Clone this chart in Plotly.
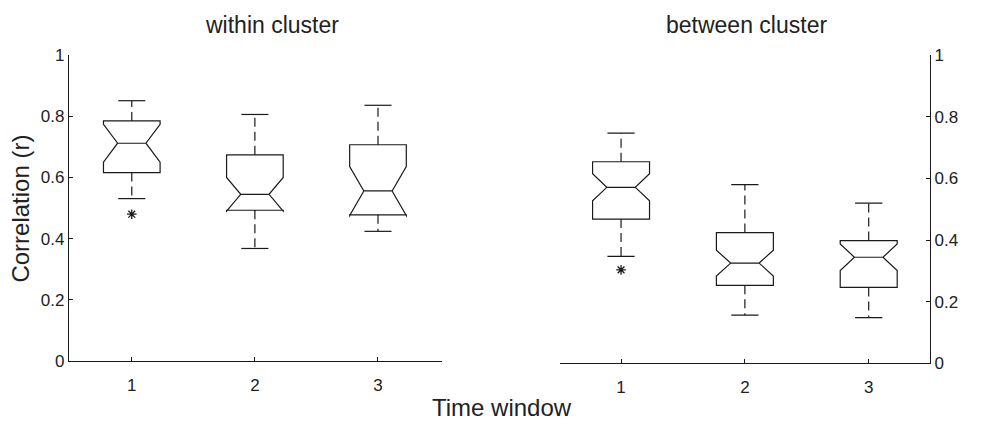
import plotly.graph_objects as go

# ---- data ----
windows = [1, 2, 3]
tick_vals_y = [0, 0.2, 0.4, 0.6, 0.8, 1]
tick_text_y = ["0", "0.2", "0.4", "0.6", "0.8", "1"]

within_q1 = [0.616, 0.493, 0.478]
within_med = [0.712, 0.545, 0.556]
within_q3 = [0.785, 0.674, 0.707]
within_lo = [0.531, 0.368, 0.424]
within_hi = [0.851, 0.806, 0.836]
within_notch = [0.062, 0.055, 0.080]
within_out_x = [1]
within_out_y = [0.48]

between_q1 = [0.468, 0.253, 0.246]
between_med = [0.571, 0.325, 0.344]
between_q3 = [0.654, 0.424, 0.398]
between_lo = [0.347, 0.156, 0.148]
between_hi = [0.747, 0.580, 0.520]
between_notch = [0.044, 0.042, 0.043]
between_out_x = [1]
between_out_y = [0.303]

W, H = 982, 421
BOXW = 0.46
CAP = 0.11
INK = "#1a1a1a"
FONT = "Liberation Sans, Arial, sans-serif"

fig = go.Figure()


def add_panel(q1, med, q3, lo, hi, notch, ox, oy, xa, ya):
    fig.add_trace(go.Box(
        x=windows, q1=q1, median=med, q3=q3,
        lowerfence=q1, upperfence=q3,
        notched=True, notchspan=notch, notchwidth=0.25,
        width=BOXW, whiskerwidth=0,
        fillcolor="rgba(0,0,0,0)", line=dict(color=INK, width=1.2),
        boxpoints=False, showlegend=False, xaxis=xa, yaxis=ya,
    ))
    # dashed whiskers
    for i, x in enumerate(windows):
        fig.add_trace(go.Scatter(
            x=[x, x, None, x, x], y=[q3[i], hi[i], None, q1[i], lo[i]],
            mode="lines", line=dict(color=INK, width=1.2, dash="9px,5px"),
            showlegend=False, hoverinfo="skip", xaxis=xa, yaxis=ya,
        ))
        fig.add_trace(go.Scatter(
            x=[x - CAP, x + CAP, None, x - CAP, x + CAP],
            y=[hi[i], hi[i], None, lo[i], lo[i]],
            mode="lines", line=dict(color=INK, width=1.2),
            showlegend=False, hoverinfo="skip", xaxis=xa, yaxis=ya,
        ))
    fig.add_trace(go.Scatter(
        x=ox, y=oy, mode="markers",
        marker=dict(symbol="asterisk-open", size=8, color=INK,
                    line=dict(color=INK, width=1.3)),
        showlegend=False, xaxis=xa, yaxis=ya,
    ))


add_panel(within_q1, within_med, within_q3, within_lo, within_hi, within_notch,
          within_out_x, within_out_y, "x", "y")
add_panel(between_q1, between_med, between_q3, between_lo, between_hi, between_notch,
          between_out_x, between_out_y, "x2", "y2")

axis_common = dict(
    showgrid=False, zeroline=False, showline=True, linecolor=INK, linewidth=1.2,
    ticks="inside", ticklen=4, tickcolor=INK, tickwidth=1,
    tickfont=dict(family=FONT, size=17, color="#222"),
)

label_font = dict(family=FONT, size=24, color="#222")
title_font = dict(family=FONT, size=23, color="#222")

fig.update_layout(
    width=W, height=H,
    margin=dict(l=0, r=0, t=0, b=0),
    paper_bgcolor="white", plot_bgcolor="white",
    xaxis=dict(domain=[69 / W, 442 / W], range=[0.49, 3.52], tickvals=windows,
               anchor="y", ticklabelstandoff=8, **axis_common),
    yaxis=dict(domain=[(H - 368.7) / H, (H - 48.3) / H], range=[0, 1],
               tickvals=tick_vals_y, ticktext=tick_text_y, anchor="x",
               side="left", **axis_common),
    xaxis2=dict(domain=[560 / W, 930 / W], range=[0.507, 3.495], tickvals=windows,
                anchor="y2", ticklabelstandoff=8, **axis_common),
    yaxis2=dict(domain=[(H - 371) / H, (H - 48.3) / H], range=[0, 1],
                tickvals=tick_vals_y, ticktext=tick_text_y, anchor="x2",
                side="right", **axis_common),
    annotations=[
        dict(text="within cluster", x=272 / W, y=1 - 17 / H, xref="paper", yref="paper",
             xanchor="center", yanchor="middle", showarrow=False, font=title_font),
        dict(text="between cluster", x=746.5 / W, y=1 - 17 / H, xref="paper", yref="paper",
             xanchor="center", yanchor="middle", showarrow=False, font=title_font),
        dict(text="Time window", x=502 / W, y=1 - 417 / H, xref="paper", yref="paper",
             xanchor="center", yanchor="middle", showarrow=False, font=label_font),
        dict(text="Correlation (r)", x=21 / W, y=1 - 209 / H, xref="paper", yref="paper",
             xanchor="center", yanchor="middle", showarrow=False, textangle=-90,
             font=label_font),
    ],
)

fig.write_html("out.html")
